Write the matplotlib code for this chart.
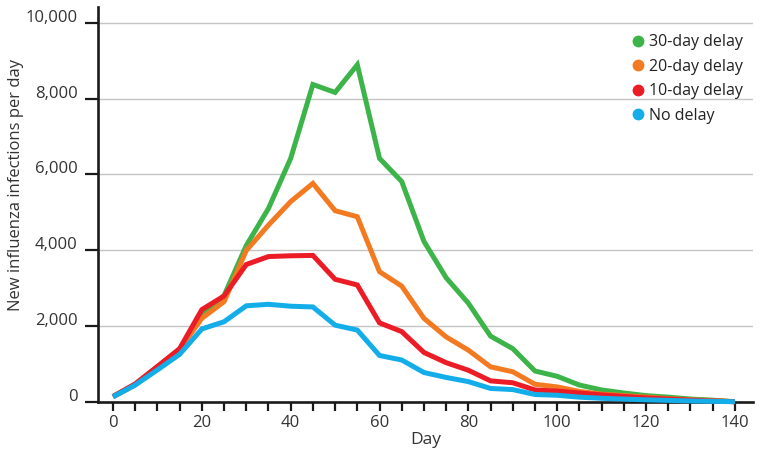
import matplotlib
matplotlib.use("Agg")
import matplotlib.pyplot as plt
from matplotlib.lines import Line2D
from matplotlib.ticker import MultipleLocator, FuncFormatter
from matplotlib.transforms import ScaledTranslation

plt.rcParams['font.family'] = ['Open Sans', 'DejaVu Sans']

days = list(range(0, 145, 5))
delay_30 = [130, 450, 920, 1380, 2290, 2800, 4120, 5100, 6420, 8370, 8160, 8890, 6420, 5810,
            4230, 3270, 2600, 1730, 1400, 810, 670, 440, 310, 230, 160, 120, 70, 40, 0]
delay_20 = [130, 450, 920, 1380, 2200, 2640, 3990, 4660, 5280, 5760, 5040, 4880, 3430, 3050,
            2200, 1710, 1360, 920, 790, 460, 390, 270, 200, 160, 120, 80, 50, 30, 0]
delay_10 = [140, 470, 930, 1400, 2430, 2790, 3620, 3830, 3850, 3860, 3230, 3080, 2080, 1850,
            1300, 1030, 830, 550, 500, 310, 280, 230, 180, 140, 100, 70, 40, 20, 0]
no_delay = [130, 440, 840, 1250, 1920, 2110, 2530, 2570, 2520, 2500, 2020, 1890, 1220, 1100,
            770, 640, 530, 350, 320, 190, 170, 120, 90, 70, 50, 35, 20, 10, 0]

series = [("30-day delay", delay_30, "#3db449"),
          ("20-day delay", delay_20, "#f47a22"),
          ("10-day delay", delay_10, "#ec1c26"),
          ("No delay", no_delay, "#13adea")]

fig = plt.figure(figsize=(7.62, 4.58), dpi=100)
ax = fig.add_axes([0.1286, 0.1229, 0.988 - 0.1286, 0.8618])

for label, vals, col in series:
    ax.plot(days, vals, color=col, lw=3.6, solid_joinstyle='miter', solid_capstyle='butt',
            clip_on=False, zorder=3)

ax.set_xlim(-3.38, 144.05)
ax.set_ylim(0, 10414)

for s in ['top', 'right']:
    ax.spines[s].set_visible(False)
for s in ['left', 'bottom']:
    ax.spines[s].set_linewidth(1.9)
    ax.spines[s].set_color('#1a1a1a')

ax.yaxis.set_major_locator(MultipleLocator(2000))
ax.yaxis.set_major_formatter(FuncFormatter(lambda v, p: f"{int(v):,}"))
ax.xaxis.set_major_locator(MultipleLocator(20))
ax.xaxis.set_minor_locator(MultipleLocator(5))

ax.tick_params(axis='y', direction='out', length=9.5, width=1.6, color='#1a1a1a',
               labelsize=12, labelcolor='#333333', pad=5)
ax.tick_params(axis='x', which='both', direction='out', length=6.5, width=1.6, color='#1a1a1a',
               labelsize=12, labelcolor='#333333', pad=3)

off = ScaledTranslation(0, 0.07, fig.dpi_scale_trans)
for lab in ax.get_yticklabels():
    lab.set_transform(lab.get_transform() + off)

for y in range(2000, 10001, 2000):
    ax.axhline(y, color='#c4c4c4', lw=1.0, zorder=1)

ax.set_xlabel("Day", fontsize=12.5, color='#333333', labelpad=1)
ax.set_ylabel("New influenza infections per day", fontsize=12, color='#333333')
ax.yaxis.set_label_coords(-0.113, 0.55)

handles = [Line2D([], [], marker='o', linestyle='none', color=c, markersize=7.5) for _, _, c in series]
ax.legend(handles, [s[0] for s in series], loc='upper right', bbox_to_anchor=(1.0, 0.955),
          frameon=False, fontsize=11.5, handletextpad=0.1, labelspacing=0.53,
          borderaxespad=0.2, handlelength=1.2, labelcolor='#222222')

fig.savefig("out.png", dpi=100)
